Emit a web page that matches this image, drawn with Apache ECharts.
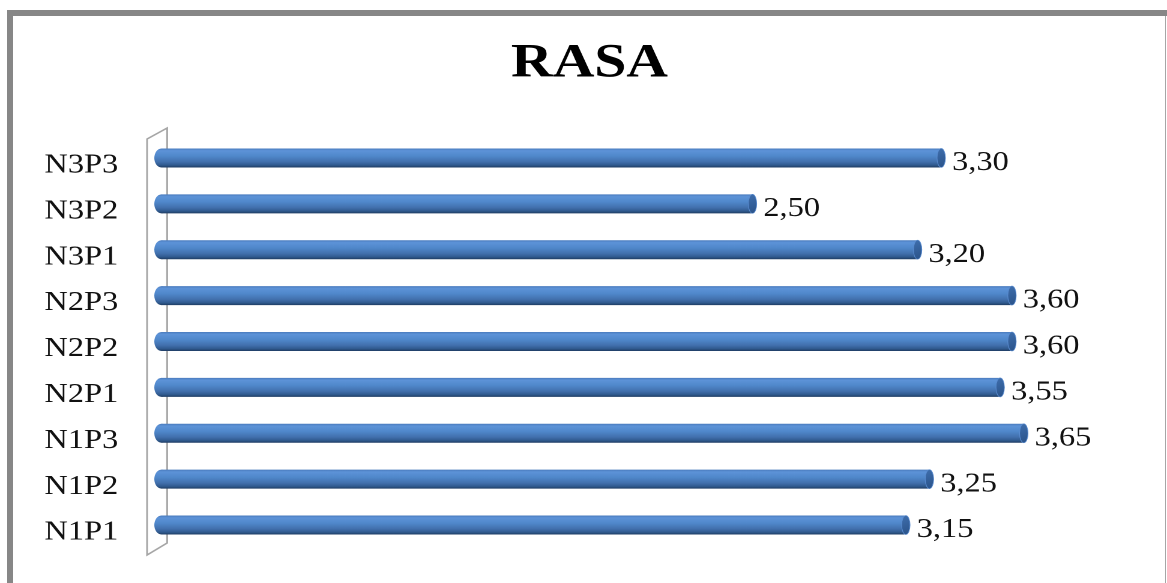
<!DOCTYPE html>
<html>
<head>
<meta charset="utf-8">
<script src="https://cdn.jsdelivr.net/npm/echarts@6/dist/echarts.min.js"></script>
<style>
  html, body { margin: 0; padding: 0; background: #fff; overflow: hidden; }
  #wrap { position: relative; width: 1167px; height: 583px; overflow: hidden; background: #fff; }
  #chart { position: absolute; left: 0; top: 0; width: 972px; height: 583px; transform: scaleX(1.2006); transform-origin: 0 0; }
  .b { position: absolute; }
</style>
</head>
<body>
<div id="wrap">
  <div id="chart"></div>
  <div class="b" style="left:7px;top:10px;width:1160px;height:6px;background:#878787;"></div>
  <div class="b" style="left:7px;top:10px;width:6px;height:573px;background:#878787;"></div>
  <div class="b" style="left:1165px;top:16px;width:1px;height:567px;background:#a6a6a6;"></div>
</div>
<script>
const titleText = 'RASA';
const categories = ['N1P1', 'N1P2', 'N1P3', 'N2P1', 'N2P2', 'N2P3', 'N3P1', 'N3P2', 'N3P3'];
const values = [3.15, 3.25, 3.65, 3.55, 3.60, 3.60, 3.20, 2.50, 3.30];
const axisMin = 0;
const axisMax = 4;

const SERIF = '"Liberation Serif", "Times New Roman", serif';
const chart = echarts.init(document.getElementById('chart'), null, { renderer: 'canvas', devicePixelRatio: 2 });

const bodyGrad = new echarts.graphic.LinearGradient(0, 0, 0, 1, [
  { offset: 0, color: '#4a7bbd' },
  { offset: 0.12, color: '#5d93d8' },
  { offset: 0.4, color: '#5088cb' },
  { offset: 0.7, color: '#4270ad' },
  { offset: 0.88, color: '#305a8e' },
  { offset: 1, color: '#1f3c63' }
]);
const capGrad = new echarts.graphic.LinearGradient(0, 0, 1, 1, [
  { offset: 0, color: '#3f6fae' },
  { offset: 1, color: '#2a5288' }
]);

function renderBar(params, api) {
  const v = api.value(0);
  const idx = api.value(1);
  const p0 = api.coord([axisMin, idx]);
  const p1 = api.coord([v, idx]);
  const h = 19;
  const cy = p0[1];
  const rxL = 6, rxR = 3.5;
  const label = v.toFixed(2).replace('.', ',');
  return {
    type: 'group',
    children: [
      { type: 'ellipse', shape: { cx: p0[0] - 1, cy: cy, rx: rxL, ry: h / 2 }, style: { fill: bodyGrad } },
      { type: 'rect', shape: { x: p0[0] - 1, y: cy - h / 2, width: p1[0] - p0[0] + 1, height: h }, style: { fill: bodyGrad } },
      { type: 'ellipse', shape: { cx: p1[0], cy: cy, rx: rxR, ry: h / 2 }, style: { fill: capGrad, stroke: '#5a8cd0', lineWidth: 0.6 } },
      { type: 'text', style: { text: label, x: p1[0] + 9, y: cy + 5, verticalAlign: 'middle', align: 'left', font: '27px ' + SERIF, fill: '#111' } }
    ]
  };
}

chart.setOption({
  animation: false,
  backgroundColor: '#fff',
  title: {
    text: titleText,
    left: 491,
    textAlign: 'center',
    top: 40,
    padding: 0,
    textStyle: { fontFamily: SERIF, fontWeight: 'bold', fontSize: 48, color: '#000' }
  },
  grid: { left: 135.5, right: 50.5, top: 135, bottom: 35, containLabel: false },
  xAxis: {
    type: 'value', min: axisMin, max: axisMax,
    show: false, splitLine: { show: false }
  },
  yAxis: {
    type: 'category', data: categories,
    axisLine: { show: false }, axisTick: { show: false }, splitLine: { show: false },
    axisLabel: { fontFamily: SERIF, fontSize: 27, color: '#111', margin: 37, verticalAlign: 'top', lineHeight: 15 }
  },
  graphic: [
    {
      type: 'polygon', z: 0,
      shape: { points: [[122.5, 139], [139.2, 128], [139.2, 543], [122.5, 555]] },
      style: { fill: '#fff', stroke: '#a6a6a6', lineWidth: 1.5 }
    }
  ],
  series: [{
    type: 'custom',
    z: 5,
    renderItem: renderBar,
    encode: { x: 0, y: 1 },
    data: values.map((v, i) => [v, i])
  }]
});
</script>
</body>
</html>
